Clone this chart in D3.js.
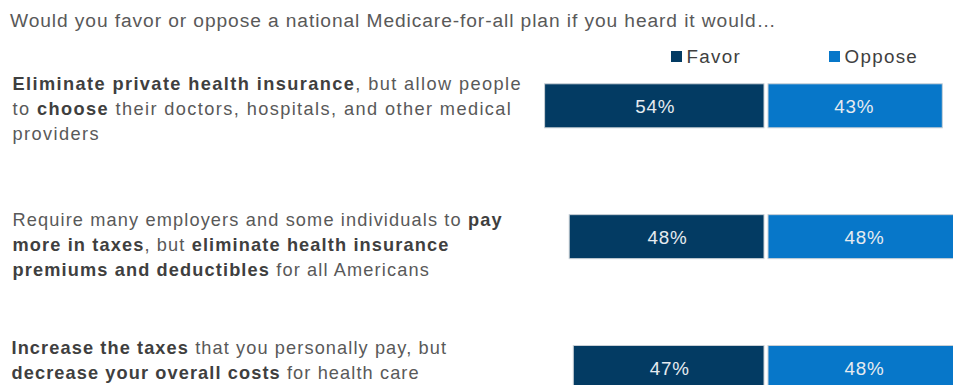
<!DOCTYPE html>
<html>
<head>
<meta charset="utf-8">
<script src="https://cdn.jsdelivr.net/npm/d3@7"></script>
<style>
  html, body { margin: 0; padding: 0; background: #fff; }
  svg { display: block; font-family: "Liberation Sans", Arial, sans-serif; }
</style>
</head>
<body>
<svg id="chart" width="953" height="385"></svg>
<script>
// Survey statements, each split into lines of [text, isBold] runs
const statements = [
  [
    [["Eliminate private health insurance", true], [", but allow people", false]],
    [["to ", false], ["choose", true], [" their doctors, hospitals, and other medical", false]],
    [["providers", false]]
  ],
  [
    [["Require many employers and some individuals to ", false], ["pay", true]],
    [["more in taxes", true], [", but ", false], ["eliminate health insurance", true]],
    [["premiums and deductibles", true], [" for all Americans", false]]
  ],
  [
    [["Increase the taxes", true], [" that you personally pay, but", false]],
    [["decrease your overall costs", true], [" for health care", false]]
  ]
];
const favor = [54, 48, 47];
const oppose = [43, 48, 48];
const seriesNames = ["Favor", "Oppose"];
const title = "Would you favor or oppose a national Medicare-for-all plan if you heard it would\u2026";

const colors = { Favor: "#033b63", Oppose: "#0777c9" };
const textGray = "#595959";
const boldGray = "#3f3f3f";

const svg = d3.select("#chart");
const rows = d3.range(statements.length);

// Bars diverge from a shared center line
const center = 766;
const len = d3.scaleLinear().domain([0, 100]).range([0, 410]);
const yc = d3.scalePoint().domain(rows).range([105.8, 367.5]);
const barH = 44;
const gap = 2;

// Title
svg.append("text")
  .attr("x", 10).attr("y", 27.3)
  .attr("font-size", 19.2)
  .attr("letter-spacing", 0.91)
  .attr("fill", textGray)
  .text(title);

// Legend
const legend = svg.append("g");
const legendX = [671, 829];
seriesNames.forEach((name, i) => {
  legend.append("rect")
    .attr("x", legendX[i]).attr("y", 51)
    .attr("width", 11).attr("height", 11)
    .attr("fill", colors[name]);
  legend.append("text")
    .attr("x", legendX[i] + 15.5).attr("y", 63.3)
    .attr("font-size", 18.8)
    .attr("letter-spacing", 1.3)
    .attr("fill", "#404040")
    .text(name);
});

// Statement labels
const labelBaseline = [90.3, 225.7, 354.4];
const labelX = [12.5, 12.5, 11.5];
const labelSpacing = [1.4, 1.13, 1.1];
const lineH = 25;
rows.forEach(r => {
  const t = svg.append("text")
    .attr("font-size", 18.2)
    .attr("letter-spacing", labelSpacing[r])
    .attr("fill", textGray);
  statements[r].forEach((line, li) => {
    line.forEach((seg, si) => {
      const ts = t.append("tspan")
        .attr("font-weight", seg[1] ? "bold" : "normal")
        .attr("fill", seg[1] ? boldGray : textGray)
        .text(seg[0]);
      if (si === 0) ts.attr("x", labelX[r]).attr("y", labelBaseline[r] + li * lineH);
    });
  });
});

// Bars
const bars = svg.append("g");
rows.forEach(r => {
  const y = yc(r) - barH / 2;
  const f = favor[r], o = oppose[r];
  bars.append("rect")
    .attr("x", center - len(f)).attr("y", y)
    .attr("width", len(f) - gap).attr("height", barH)
    .attr("fill", colors.Favor)
    .attr("stroke", "#c9d0d6").attr("stroke-width", 1);
  bars.append("rect")
    .attr("x", center + gap).attr("y", y)
    .attr("width", len(o) - gap).attr("height", barH)
    .attr("fill", colors.Oppose)
    .attr("stroke", "#c9d0d6").attr("stroke-width", 1);

  bars.append("text")
    .attr("x", center - len(f) / 2).attr("y", yc(r) + 7)
    .attr("text-anchor", "middle")
    .attr("font-size", 18.8)
    .attr("letter-spacing", 0.8)
    .attr("fill", "#e6ebf0")
    .text(f + "%");
  bars.append("text")
    .attr("x", center + len(o) / 2).attr("y", yc(r) + 7)
    .attr("text-anchor", "middle")
    .attr("font-size", 18.8)
    .attr("letter-spacing", 0.8)
    .attr("fill", "#e6ebf0")
    .text(o + "%");
});
</script>
</body>
</html>
